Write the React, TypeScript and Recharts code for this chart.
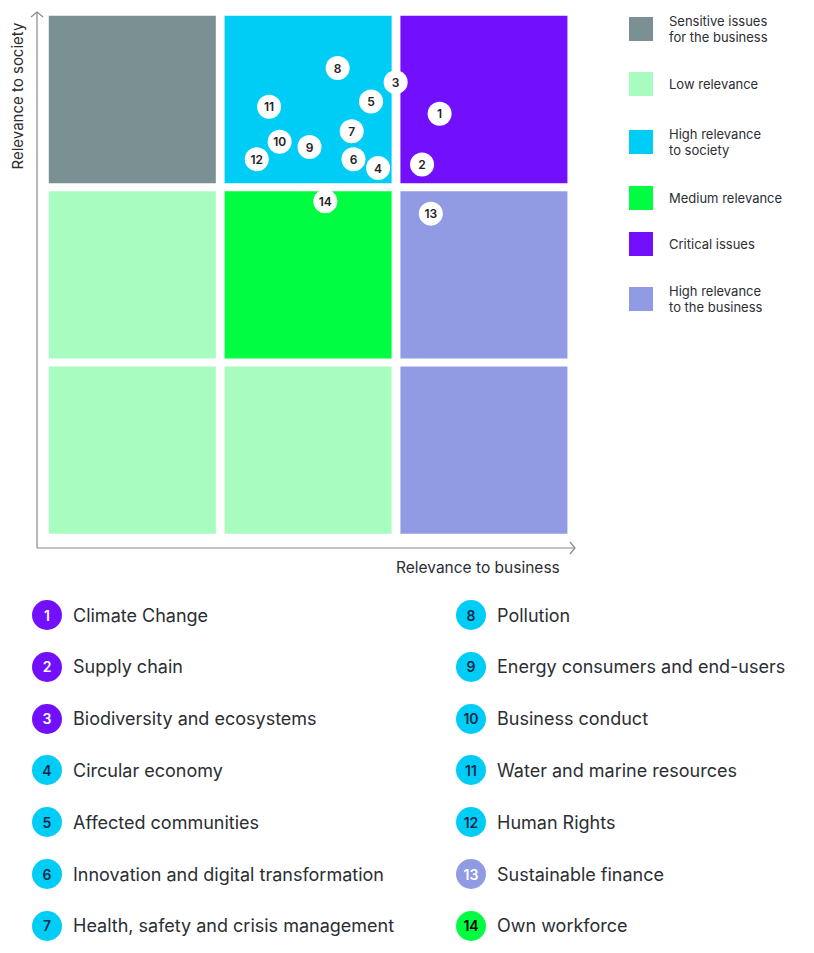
import React from "react";
import {
  ScatterChart,
  Scatter,
  XAxis,
  YAxis,
  ReferenceArea,
  ReferenceDot,
  ReferenceLine,
} from "recharts";

// topics plotted on the matrix
const topicIds = [1, 2, 3, 4, 5, 6, 7, 8, 9, 10, 11, 12, 13, 14];
const topicNames = [
  "Climate Change",
  "Supply chain",
  "Biodiversity and ecosystems",
  "Circular economy",
  "Affected communities",
  "Innovation and digital transformation",
  "Health, safety and crisis management",
  "Pollution",
  "Energy consumers and end-users",
  "Business conduct",
  "Water and marine resources",
  "Human Rights",
  "Sustainable finance",
  "Own workforce",
];
const topicZones = [
  "critical", "critical", "critical",
  "society", "society", "society", "society", "society", "society", "society", "society", "society",
  "business", "medium",
];
const businessScores = [2.25, 2.15, 2.0, 1.9, 1.86, 1.76, 1.75, 1.67, 1.51, 1.34, 1.28, 1.21, 2.2, 1.6];
const societyScores = [2.42, 2.13, 2.6, 2.11, 2.49, 2.16, 2.32, 2.68, 2.23, 2.26, 2.46, 2.16, 1.85, 1.92];

// matrix zones, top row first
const zoneGrid = [
  ["sensitive", "society", "critical"],
  ["low", "medium", "business"],
  ["low", "low", "business"],
];

const legendKeys = ["sensitive", "low", "society", "medium", "critical", "business"];
const legendLabels = [
  ["Sensitive issues", "for the business"],
  ["Low relevance"],
  ["High relevance", "to society"],
  ["Medium relevance"],
  ["Critical issues"],
  ["High relevance", "to the business"],
];

const zoneColors: Record<string, string> = {
  sensitive: "#7b9093",
  low: "#a8fcc0",
  society: "#00cdf6",
  medium: "#00fd42",
  critical: "#7210fd",
  business: "#909be3",
};
const zoneText: Record<string, string> = {
  sensitive: "#ffffff",
  low: "#1a2440",
  society: "#16294a",
  medium: "#000000",
  critical: "#ffffff",
  business: "#ffffff",
};

const FONT = "Inter, 'Noto Sans', sans-serif";
const TEXT = "#2b2e33";
const X_MIN = -0.04;
const X_MAX = 3.02;
const Y_MIN = -0.057;
const Y_MAX = 3.0;

const points = topicIds.map((id, i) => ({
  id,
  x: businessScores[i],
  y: societyScores[i],
}));

function Marker(props: any) {
  const { cx, cy, payload } = props;
  return (
    <g>
      <circle cx={cx} cy={cy} r={12} fill="#fff" />
      <text
        x={cx}
        y={cy}
        dy={4.5}
        textAnchor="middle"
        fontSize={12}
        fontWeight={600}
        fontFamily={FONT}
        fill="#222"
      >
        {payload.id}
      </text>
    </g>
  );
}

const ArrowRight = (p: any) => (
  <polyline
    points={`${p.cx - 5},${p.cy - 6} ${p.cx},${p.cy} ${p.cx - 5},${p.cy + 6}`}
    fill="none"
    stroke="#888"
    strokeWidth={1.2}
  />
);
const ArrowUp = (p: any) => (
  <polyline
    points={`${p.cx - 6},${p.cy + 5} ${p.cx},${p.cy} ${p.cx + 6},${p.cy + 5}`}
    fill="none"
    stroke="#888"
    strokeWidth={1.2}
  />
);

export default function App() {
  return (
    <div
      style={{
        position: "absolute",
        left: 0,
        top: 0,
        width: 814,
        height: 953,
        background: "#fff",
        fontFamily: FONT,
        color: TEXT,
      }}
    >
      <ScatterChart
        width={814}
        height={580}
        margin={{ top: 12, right: 239, bottom: 32, left: 37 }}
      >
        <XAxis
          type="number"
          dataKey="x"
          domain={[X_MIN, X_MAX]}
          hide
          allowDataOverflow
        />
        <YAxis
          type="number"
          dataKey="y"
          domain={[Y_MIN, Y_MAX]}
          hide
          allowDataOverflow
        />
        {zoneGrid.map((row, r) =>
          row.map((zone, c) => (
            <ReferenceArea
              key={`${r}-${c}`}
              x1={c + 0.027}
              x2={c + 0.977}
              y1={2 - r + 0.024}
              y2={2 - r + 0.978}
              fill={zoneColors[zone]}
              fillOpacity={1}
              stroke="none"
            />
          ))
        )}
        <ReferenceLine
          segment={[{ x: X_MIN, y: Y_MIN }, { x: X_MAX, y: Y_MIN }]}
          stroke="#888"
          strokeWidth={1.2}
          ifOverflow="visible"
        />
        <ReferenceLine
          segment={[{ x: X_MIN, y: Y_MIN }, { x: X_MIN, y: Y_MAX }]}
          stroke="#888"
          strokeWidth={1.2}
          ifOverflow="visible"
        />
        <ReferenceDot x={X_MAX} y={Y_MIN} shape={ArrowRight} ifOverflow="visible" />
        <ReferenceDot x={X_MIN} y={Y_MAX} shape={ArrowUp} ifOverflow="visible" />
        <Scatter data={points} shape={Marker} isAnimationActive={false} />
      </ScatterChart>

      <div
        style={{
          position: "absolute",
          left: 396,
          top: 558,
          fontSize: 15.5,
          whiteSpace: "nowrap",
        }}
      >
        Relevance to business
      </div>
      <div
        style={{
          position: "absolute",
          left: 17,
          top: 96,
          fontSize: 15,
          whiteSpace: "nowrap",
          transform: "translate(-50%, -50%) rotate(-90deg)",
        }}
      >
        Relevance to society
      </div>

      {legendKeys.map((key, i) => {
        const tops = [17, 72, 130, 186, 232, 287];
        return (
          <div
            key={key}
            style={{
              position: "absolute",
              left: 629,
              top: tops[i],
              height: 24,
              display: "flex",
              alignItems: "center",
            }}
          >
            <div style={{ width: 24, height: 24, background: zoneColors[key], flexShrink: 0 }} />
            <div style={{ marginLeft: 16, fontSize: 13, lineHeight: "16px", whiteSpace: "nowrap" }}>
              {legendLabels[i].map((l) => (
                <div key={l}>{l}</div>
              ))}
            </div>
          </div>
        );
      })}

      {topicIds.map((id, i) => {
        const col = i < 7 ? 0 : 1;
        const row = i % 7;
        const zone = topicZones[i];
        return (
          <div
            key={id}
            style={{
              position: "absolute",
              left: col === 0 ? 32 : 456,
              top: 600 + row * 51.8,
              display: "flex",
              alignItems: "center",
              height: 30,
            }}
          >
            <div
              style={{
                width: 30,
                height: 30,
                borderRadius: 15,
                background: zoneColors[zone],
                color: zoneText[zone],
                fontSize: 14,
                fontWeight: 600,
                display: "flex",
                alignItems: "center",
                justifyContent: "center",
              }}
            >
              {id}
            </div>
            <div style={{ marginLeft: 11, fontSize: 18, whiteSpace: "nowrap" }}>{topicNames[i]}</div>
          </div>
        );
      })}
    </div>
  );
}
